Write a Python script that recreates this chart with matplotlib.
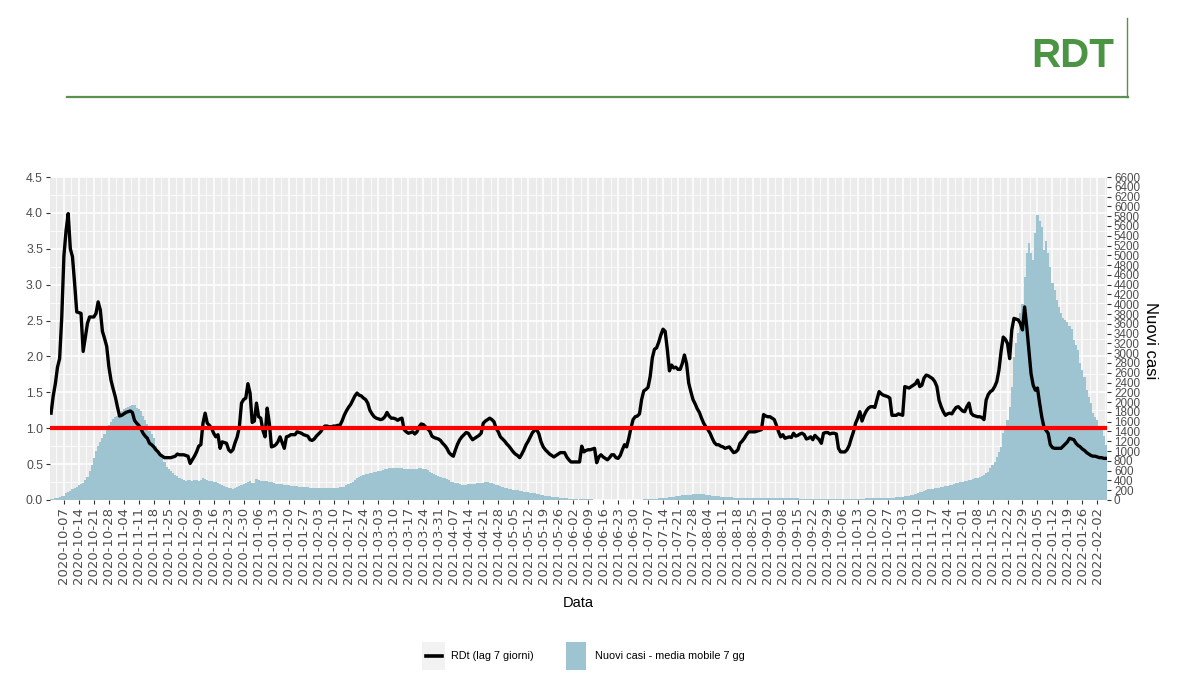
import numpy as np
import pandas as pd
import matplotlib
matplotlib.use("Agg")
import matplotlib.pyplot as plt
import matplotlib.dates as mdates
from matplotlib.lines import Line2D
from matplotlib.patches import Rectangle

# Daily series, first day 2020-10-01
start_day = "2020-10-01"

# RDt (lag 7 giorni), one value per day
rdt = [
    1.21, 1.45, 1.62, 1.85, 1.97, 2.55, 3.40, 3.75, 3.99, 3.50,
    3.39, 3.02, 2.62, 2.61, 2.60, 2.07, 2.27, 2.46, 2.55, 2.55,
    2.55, 2.60, 2.76, 2.65, 2.35, 2.25, 2.14, 1.86, 1.67, 1.55,
    1.44, 1.30, 1.17, 1.18, 1.20, 1.22, 1.23, 1.24, 1.22, 1.11,
    1.07, 1.04, 0.99, 0.93, 0.89, 0.86, 0.79, 0.77, 0.74, 0.70,
    0.67, 0.63, 0.61, 0.59, 0.59, 0.59, 0.59, 0.60, 0.61, 0.64,
    0.63, 0.63, 0.63, 0.62, 0.61, 0.51, 0.56, 0.61, 0.67, 0.75,
    0.77, 1.07, 1.21, 1.07, 1.04, 1.00, 0.93, 0.88, 0.91, 0.72,
    0.81, 0.80, 0.79, 0.70, 0.67, 0.70, 0.80, 0.88, 1.02, 1.35,
    1.40, 1.42, 1.62, 1.49, 1.08, 1.10, 1.35, 1.16, 1.14, 0.97,
    0.88, 1.28, 1.07, 0.74, 0.75, 0.77, 0.81, 0.88, 0.80, 0.72,
    0.88, 0.89, 0.91, 0.91, 0.91, 0.95, 0.94, 0.93, 0.91, 0.90,
    0.89, 0.84, 0.83, 0.85, 0.89, 0.92, 0.95, 1.00, 1.03, 1.03,
    1.02, 1.02, 1.03, 1.03, 1.04, 1.04, 1.10, 1.18, 1.24, 1.29,
    1.33, 1.39, 1.45, 1.49, 1.46, 1.45, 1.42, 1.40, 1.35, 1.25,
    1.20, 1.16, 1.14, 1.13, 1.12, 1.13, 1.16, 1.22, 1.17, 1.14,
    1.14, 1.13, 1.11, 1.13, 1.14, 0.98, 0.95, 0.93, 0.94, 0.95,
    0.92, 0.95, 1.02, 1.06, 1.05, 1.02, 0.99, 0.96, 0.89, 0.87,
    0.86, 0.85, 0.83, 0.79, 0.76, 0.72, 0.66, 0.63, 0.61, 0.70,
    0.78, 0.84, 0.88, 0.91, 0.94, 0.93, 0.88, 0.84, 0.86, 0.88,
    0.90, 0.93, 1.07, 1.10, 1.12, 1.14, 1.12, 1.09, 1.00, 0.95,
    0.88, 0.85, 0.82, 0.78, 0.75, 0.71, 0.67, 0.64, 0.62, 0.59,
    0.64, 0.70, 0.77, 0.82, 0.88, 0.94, 0.97, 0.98, 0.92, 0.81,
    0.74, 0.70, 0.67, 0.64, 0.62, 0.60, 0.62, 0.64, 0.66, 0.66,
    0.66, 0.60, 0.56, 0.53, 0.53, 0.53, 0.53, 0.53, 0.75, 0.67,
    0.69, 0.70, 0.70, 0.71, 0.72, 0.52, 0.60, 0.63, 0.60, 0.58,
    0.56, 0.59, 0.63, 0.63, 0.59, 0.58, 0.62, 0.70, 0.77, 0.74,
    0.86, 1.00, 1.12, 1.16, 1.17, 1.20, 1.40, 1.52, 1.54, 1.57,
    1.72, 1.98, 2.10, 2.12, 2.20, 2.30, 2.38, 2.35, 2.10, 1.80,
    1.88, 1.84, 1.85, 1.82, 1.82, 1.90, 2.02, 1.90, 1.63, 1.51,
    1.40, 1.34, 1.27, 1.22, 1.14, 1.07, 1.02, 0.98, 0.93, 0.86,
    0.80, 0.77, 0.77, 0.75, 0.74, 0.72, 0.73, 0.74, 0.70, 0.66,
    0.67, 0.70, 0.79, 0.82, 0.86, 0.91, 0.95, 0.95, 0.95, 0.95,
    0.96, 0.97, 0.98, 1.19, 1.17, 1.16, 1.16, 1.14, 1.12, 1.04,
    0.95, 0.88, 0.91, 0.86, 0.87, 0.88, 0.87, 0.93, 0.89, 0.90,
    0.92, 0.93, 0.91, 0.85, 0.86, 0.88, 0.84, 0.90, 0.87, 0.84,
    0.79, 0.93, 0.94, 0.94, 0.92, 0.93, 0.93, 0.92, 0.72, 0.67,
    0.67, 0.67, 0.70, 0.76, 0.86, 0.95, 1.07, 1.14, 1.23, 1.10,
    1.18, 1.24, 1.28, 1.30, 1.30, 1.29, 1.40, 1.51, 1.48, 1.46,
    1.45, 1.44, 1.42, 1.18, 1.18, 1.18, 1.20, 1.19, 1.18, 1.58,
    1.57, 1.56, 1.58, 1.60, 1.62, 1.67, 1.58, 1.60, 1.70, 1.74,
    1.73, 1.71, 1.69, 1.65, 1.58, 1.39, 1.30, 1.23, 1.18, 1.20,
    1.21, 1.20, 1.25, 1.29, 1.30, 1.27, 1.24, 1.23, 1.30, 1.35,
    1.21, 1.18, 1.17, 1.16, 1.16, 1.15, 1.12, 1.39, 1.47, 1.51,
    1.53, 1.58, 1.65, 1.81, 2.07, 2.27, 2.24, 2.18, 1.97, 2.37,
    2.53, 2.52, 2.51, 2.46, 2.37, 2.69, 2.41, 2.09, 1.76, 1.60,
    1.53, 1.56, 1.35, 1.16, 1.02, 0.97, 0.93, 0.77, 0.73, 0.72,
    0.72, 0.72, 0.72, 0.75, 0.78, 0.81, 0.86, 0.85, 0.84, 0.79,
    0.76, 0.74, 0.71, 0.69, 0.66, 0.64, 0.62, 0.61, 0.61, 0.60,
    0.59, 0.59, 0.58, 0.58,
]

# Nuovi casi - media mobile 7 gg, one value per day (a row is one week)
nuovi_casi = [
    15, 25, 35, 45, 60, 75, 90,
    136, 160, 185, 218, 245, 270, 300,
    320, 340, 410, 480, 600, 720, 850,
    1000, 1100, 1190, 1270, 1350, 1460, 1530,
    1600, 1650, 1690, 1720, 1780, 1810, 1850,
    1890, 1910, 1930, 1950, 1940, 1890, 1860,
    1820, 1720, 1640, 1560, 1420, 1340, 1260,
    1100, 1010, 920, 850, 780, 680, 640,
    600, 545, 520, 490, 445, 420, 400,
    390, 400, 400, 395, 400, 400, 395,
    400, 443, 425, 410, 395, 385, 375,
    360, 345, 327, 310, 290, 272, 255,
    235, 218, 240, 262, 286, 310, 335,
    354, 375, 395, 345, 340, 422, 410,
    395, 390, 385, 380, 375, 362, 340,
    335, 330, 327, 320, 313, 306, 300,
    293, 286, 281, 277, 272, 268, 264,
    259, 256, 254, 252, 252, 252, 250,
    248, 245, 242, 240, 240, 240, 242,
    250, 252, 258, 265, 272, 300, 320,
    340, 375, 410, 443, 465, 490, 511,
    522, 535, 545, 555, 566, 579, 590,
    600, 613, 625, 636, 647, 647, 647,
    650, 655, 660, 650, 640, 633, 633,
    633, 633, 633, 640, 645, 647, 640,
    633, 610, 579, 560, 535, 511, 490,
    465, 450, 443, 420, 400, 375, 360,
    350, 340, 328, 316, 306, 312, 320,
    327, 330, 335, 340, 345, 350, 355,
    358, 361, 350, 338, 327, 313, 300,
    286, 270, 254, 238, 226, 215, 204,
    200, 195, 191, 182, 172, 163, 155,
    146, 140, 136, 124, 113, 102, 95,
    88, 82, 75, 68, 61, 57, 52,
    48, 44, 39, 34, 29, 25, 20,
    18, 16, 15, 14, 13, 12, 12,
    11, 11, 10, 10, 10, 10, 9,
    9, 9, 8, 8, 8, 7, 7,
    6, 6, 6, 5, 5, 5, 6,
    6, 7, 8, 10, 12, 14, 17,
    20, 23, 26, 29, 32, 34, 40,
    45, 50, 56, 62, 68, 74, 80,
    86, 92, 97, 102, 106, 110, 115,
    119, 123, 122, 120, 116, 110, 102,
    95, 88, 82, 77, 72, 67, 62,
    58, 54, 53, 52, 51, 50, 49,
    48, 47, 46, 45, 44, 43, 42,
    41, 41, 41, 41, 41, 41, 41,
    40, 39, 38, 37, 36, 35, 34,
    34, 34, 34, 33, 33, 32, 31,
    30, 29, 28, 27, 27, 27, 27,
    27, 26, 26, 26, 25, 25, 25,
    24, 24, 24, 24, 24, 24, 24,
    25, 25, 26, 26, 27, 27, 27,
    28, 29, 30, 31, 33, 34, 35,
    36, 37, 38, 40, 41, 43, 45,
    47, 49, 51, 54, 58, 63, 70,
    76, 82, 90, 100, 112, 123, 140,
    155, 170, 186, 202, 218, 225, 232,
    238, 245, 252, 259, 268, 277, 286,
    300, 313, 327, 338, 350, 361, 372,
    383, 395, 404, 413, 422, 440, 458,
    477, 494, 511, 545, 580, 650, 720,
    780, 885, 990, 1090, 1362, 1500, 1634,
    1900, 2315, 2928, 3200, 3405, 3814, 4000,
    4563, 5039, 5244, 5040, 4900, 5448, 5823,
    5700, 5584, 5108, 5300, 5039, 4767, 4427,
    4290, 4086, 3950, 3814, 3712, 3680, 3643,
    3560, 3500, 3269, 3160, 3065, 2792, 2650,
    2520, 2247, 2100, 1975, 1771, 1700, 1634,
    1500, 1430, 1300, 1124,
]

soglia = 1.0
rdt_max = 4.5
casi_max = 6600
scala = casi_max / rdt_max

first_tick = "2020-10-07"
last_tick = "2022-02-02"

legend_labels = ["RDt (lag 7 giorni)", "Nuovi casi - media mobile 7 gg"]

# Colours
bar_color = "#9ec4d1"
green = "#4b9443"
grey_text = "#4D4D4D"

plt.rcParams["font.family"] = ["Liberation Sans", "DejaVu Sans"]

W, H = 1178, 700
fig = plt.figure(figsize=(W / 100, H / 100), dpi=100)


def fx(px):
    return px / W


def fy(py):
    return 1 - py / H


# Header
fig.add_artist(Line2D([fx(67), fx(1128)], [fy(97), fy(97)],
                      transform=fig.transFigure, color="#5b8f4e", lw=1.6))
fig.add_artist(Line2D([fx(1127), fx(1127)], [fy(18), fy(97)],
                      transform=fig.transFigure, color="#5b8f4e", lw=1.0))
fig.text(fx(1114), fy(56), "RDT", ha="right", va="center",
         fontsize=29, fontweight="bold", color=green)

# Main panel
ax = fig.add_axes([fx(50), fy(500), fx(1107) - fx(50), fy(177) - fy(500)])
ax.set_facecolor("#EBEBEB")
for s in ax.spines.values():
    s.set_visible(False)

dates = pd.date_range(start_day, periods=len(rdt), freq="D")

ax.bar(dates, [c / scala for c in nuovi_casi], width=1.0,
       color=bar_color, linewidth=0, zorder=2)
ax.plot(dates, rdt, color="black", lw=2.4, zorder=3,
        solid_joinstyle="round")
ax.axhline(soglia, color="#ff0000", lw=3, zorder=4)

ax.set_xlim(dates[0] - pd.Timedelta(hours=12), dates[-1] + pd.Timedelta(hours=12))
ax.set_ylim(0, rdt_max)

# x axis: weekly ticks, minor lines halfway
tick_dates = pd.date_range(first_tick, last_tick, freq="7D")
tick_num = mdates.date2num(tick_dates)
ax.set_xticks(tick_num)
ax.set_xticklabels([d.strftime("%Y-%m-%d") for d in tick_dates], rotation=90,
                   fontsize=9.5, family="DejaVu Sans", color=grey_text)
ax.set_xticks(np.concatenate([tick_num - 3.5, [tick_num[-1] + 3.5]]), minor=True)

# y axis
yt = np.arange(0, rdt_max + 0.01, 0.5)
ax.set_yticks(yt)
ax.set_yticklabels([f"{v:.1f}" for v in yt], fontsize=8.8, color=grey_text)
ax.set_yticks(yt[:-1] + 0.25, minor=True)

ax.tick_params(which="major", length=3, width=0.8, color="#333333", pad=2)
ax.tick_params(which="minor", length=0)
ax.grid(which="major", color="white", lw=1.1)
ax.grid(which="minor", color="white", lw=0.55)
ax.set_axisbelow(True)

# Secondary axis for new cases
sec = ax.secondary_yaxis("right", functions=(lambda y: y * scala, lambda y: y / scala))
sec.set_yticks(np.arange(0, casi_max + 1, 200))
sec.tick_params(length=3, width=0.8, color="#333333", pad=2, labelsize=8.4,
                labelcolor=grey_text)
for s in sec.spines.values():
    s.set_visible(False)

fig.text(fx(578), fy(603), "Data", ha="center", va="center", fontsize=10.5)
fig.text(fx(1151), fy(341), "Nuovi casi", ha="center", va="center",
         rotation=270, fontsize=12)

# Legend
fig.add_artist(Rectangle((fx(422), fy(670)), fx(445) - fx(422), fy(642) - fy(670),
                         transform=fig.transFigure, facecolor="#F2F2F2", edgecolor="none"))
fig.add_artist(Line2D([fx(426), fx(442)], [fy(656), fy(656)],
                      transform=fig.transFigure, color="black", lw=2.6))
fig.text(fx(451), fy(656), legend_labels[0], ha="left", va="center", fontsize=7.8)
fig.add_artist(Rectangle((fx(566), fy(670)), fx(586) - fx(566), fy(642) - fy(670),
                         transform=fig.transFigure, facecolor=bar_color, edgecolor="none"))
fig.text(fx(595), fy(656), legend_labels[1], ha="left", va="center", fontsize=7.8)

fig.savefig("out.png", dpi=100)
